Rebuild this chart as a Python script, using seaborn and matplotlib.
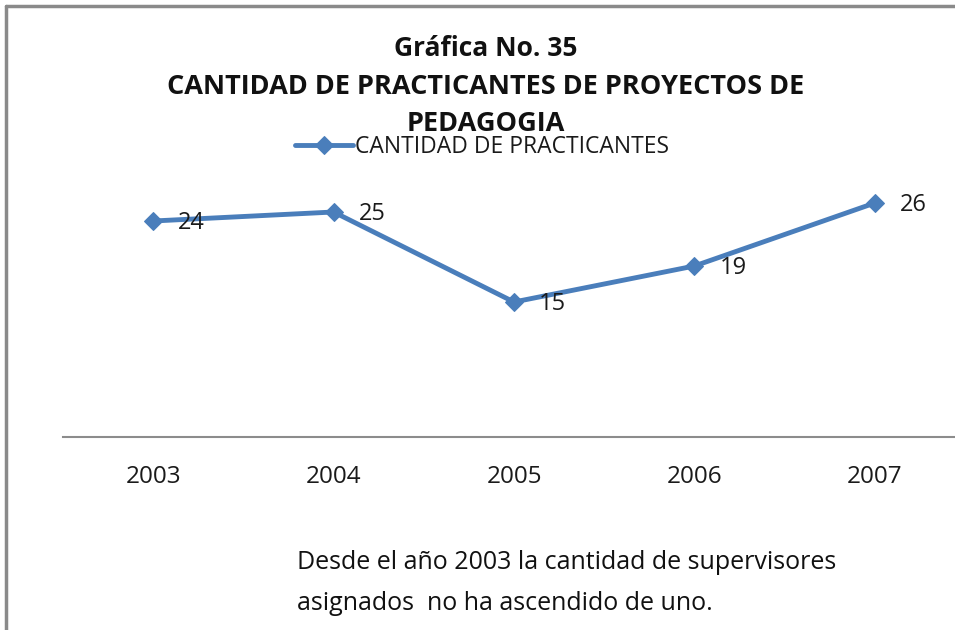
import matplotlib
matplotlib.use("Agg")
import matplotlib.pyplot as plt
from matplotlib.lines import Line2D
import seaborn as sns
import pandas as pd

# datos de la grafica
anios = ["2003", "2004", "2005", "2006", "2007"]
practicantes = [24, 25, 15, 19, 26]
serie = "CANTIDAD DE PRACTICANTES"
titulo = ["Gráfica No. 35", "CANTIDAD DE PRACTICANTES DE PROYECTOS DE", "PEDAGOGIA"]
nota = "Desde el año 2003 la cantidad de supervisores\nasignados  no ha ascendido de uno."

azul = "#4A7EBB"

sns.set_theme(style="white")
plt.rcParams["font.family"] = ["Open Sans", "DejaVu Sans"]

df = pd.DataFrame({"anio": anios, "cantidad": practicantes})

fig = plt.figure(figsize=(9.55, 6.3), dpi=100)
fig.patch.set_facecolor("white")
ax = fig.add_axes([63 / 955, 193 / 630, 902 / 955, 270 / 630])

sns.lineplot(data=df, x="anio", y="cantidad", ax=ax, color=azul, linewidth=3.5,
             marker="D", markersize=9, markeredgecolor=azul, label=serie)

for i, v in enumerate(practicantes):
    ax.annotate(str(v), (i, v), xytext=(25, -2), textcoords="offset pixels",
                va="center", ha="left", fontsize=17, color="#1a1a1a")

ax.set_xlim(-0.5, 4.5)
ax.set_ylim(0, 30)
ax.set_xlabel("")
ax.set_ylabel("")
ax.set_yticks([])
ax.tick_params(axis="x", length=0, pad=20, labelsize=17.5, labelcolor="#1a1a1a")
for s in ["top", "right", "left"]:
    ax.spines[s].set_visible(False)
ax.spines["bottom"].set_color("#8c8c8c")
ax.spines["bottom"].set_linewidth(1.5)
ax.legend_.remove()

# titulo en tres lineas
for txt, ypx, fs in zip(titulo, [48, 87, 124], [19, 19.5, 19.5]):
    fig.text(486 / 955, 1 - ypx / 630, txt, ha="center", va="center",
             fontsize=fs, fontweight="bold", color="#111111")

h, l = ax.get_legend_handles_labels()
leg = fig.legend(h, l, loc="center left", bbox_to_anchor=(293 / 955, 1 - 147 / 630),
                 frameon=True, fancybox=False, borderpad=0.1, borderaxespad=0,
                 handlelength=2.5, handletextpad=0.1, fontsize=16.5)
leg.get_frame().set_facecolor("white")
leg.get_frame().set_edgecolor("white")
for t in leg.get_texts():
    t.set_color("#1a1a1a")

fig.text(297 / 955, 1 - 583 / 630, nota, ha="left", va="center",
         fontsize=18, linespacing=1.8, color="#111111")

# marco gris arriba e izquierda
fig.add_artist(Line2D([6 / 955, 1], [1 - 6 / 630] * 2, color="#8a8a8a", lw=2.5))
fig.add_artist(Line2D([6 / 955] * 2, [0, 1 - 6 / 630], color="#8a8a8a", lw=2.5))

fig.savefig("out.png", dpi=100)
